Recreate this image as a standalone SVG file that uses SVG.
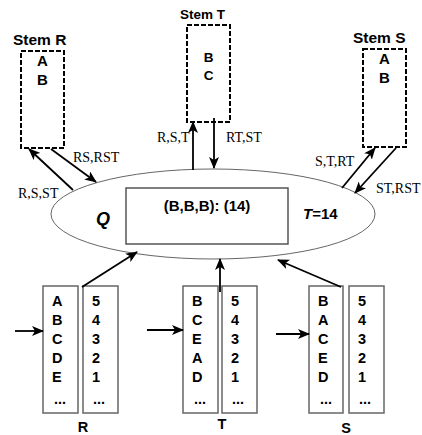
<svg xmlns="http://www.w3.org/2000/svg" width="422" height="435" viewBox="0 0 422 435">
<style>
.sans{font-family:"Liberation Sans",Arial,sans-serif;font-weight:bold;fill:#000}
.serif{font-family:"Liberation Serif","Times New Roman",serif;fill:#000;font-size:14px}
.stem{fill:#fff;stroke:#000;stroke-width:2;stroke-dasharray:5,2}
.col{fill:#fff;stroke:#666;stroke-width:1.5}
.arr{stroke:#000;stroke-width:1.8;fill:none;marker-end:url(#ah)}
</style>
<defs>
<marker id="ah" viewBox="0 0 12 10" refX="11" refY="5" markerWidth="12" markerHeight="10" markerUnits="userSpaceOnUse" orient="auto">
<path d="M0,0 L12,5 L0,10 L3,5 Z" fill="#000"/>
</marker>
</defs>
<rect width="422" height="435" fill="#fff"/>

<g id="Q">
<ellipse cx="213" cy="214" rx="162" ry="45" fill="#fff" stroke="#666" stroke-width="1"/>
<rect x="126" y="188" width="162" height="56" fill="#fff" stroke="#555" stroke-width="1.5"/>
<text class="sans" x="207" y="211" font-size="15" text-anchor="middle">(B,B,B): (14)</text>
<text class="sans" x="96" y="225" font-size="18" font-style="italic">Q</text>
<text class="sans" x="303" y="219" font-size="15"><tspan font-style="italic">T</tspan>=14</text>
</g>

<g id="stemR">
<text class="sans" x="13" y="45" font-size="15.5">Stem R</text>
<rect class="stem" x="21" y="51" width="43" height="97"/>
<text class="sans" x="42.5" y="66" font-size="15" text-anchor="middle">A</text>
<text class="sans" x="42.5" y="85" font-size="15" text-anchor="middle">B</text>
</g>

<g id="stemT">
<text class="sans" x="180" y="19" font-size="13.5">Stem T</text>
<rect class="stem" x="187" y="25" width="43" height="97"/>
<text class="sans" x="208.5" y="62" font-size="13.5" text-anchor="middle">B</text>
<text class="sans" x="208.5" y="80" font-size="13.5" text-anchor="middle">C</text>
</g>

<g id="stemS">
<text class="sans" x="353" y="43" font-size="15.5">Stem S</text>
<rect class="stem" x="363" y="49" width="43" height="98"/>
<text class="sans" x="384.5" y="64" font-size="15" text-anchor="middle">A</text>
<text class="sans" x="384.5" y="83" font-size="15" text-anchor="middle">B</text>
</g>

<g id="colR">
<rect class="col" x="43" y="286" width="35" height="127"/>
<rect class="col" x="83" y="286" width="35" height="127"/>
<text class="sans" font-size="14.5"><tspan x="52" y="306">A</tspan><tspan x="52" y="325">B</tspan><tspan x="52" y="344">C</tspan><tspan x="52" y="363">D</tspan><tspan x="52" y="382">E</tspan><tspan x="54" y="404">...</tspan></text>
<text class="sans" font-size="14.5"><tspan x="92" y="306">5</tspan><tspan x="92" y="325">4</tspan><tspan x="92" y="344">3</tspan><tspan x="92" y="363">2</tspan><tspan x="92" y="382">1</tspan><tspan x="93" y="404">...</tspan></text>
<text class="sans" x="83" y="432" font-size="14.5" text-anchor="middle">R</text>
</g>

<g id="colT">
<rect class="col" x="183" y="286" width="35" height="127"/>
<rect class="col" x="222" y="286" width="35" height="127"/>
<text class="sans" font-size="14.5"><tspan x="192" y="306">B</tspan><tspan x="192" y="325">C</tspan><tspan x="192" y="344">E</tspan><tspan x="192" y="363">A</tspan><tspan x="192" y="382">D</tspan><tspan x="194" y="404">...</tspan></text>
<text class="sans" font-size="14.5"><tspan x="231" y="306">5</tspan><tspan x="231" y="325">4</tspan><tspan x="231" y="344">3</tspan><tspan x="231" y="363">2</tspan><tspan x="231" y="382">1</tspan><tspan x="232" y="404">...</tspan></text>
<text class="sans" x="222" y="429" font-size="14.5" text-anchor="middle">T</text>
</g>

<g id="colS">
<rect class="col" x="309" y="286" width="34" height="127"/>
<rect class="col" x="349" y="286" width="35" height="127"/>
<text class="sans" font-size="14.5"><tspan x="318" y="306">B</tspan><tspan x="318" y="325">A</tspan><tspan x="318" y="344">C</tspan><tspan x="318" y="363">E</tspan><tspan x="318" y="382">D</tspan><tspan x="320" y="404">...</tspan></text>
<text class="sans" font-size="14.5"><tspan x="358" y="306">5</tspan><tspan x="358" y="325">4</tspan><tspan x="358" y="344">3</tspan><tspan x="358" y="363">2</tspan><tspan x="358" y="382">1</tspan><tspan x="359" y="404">...</tspan></text>
<text class="sans" x="346" y="433" font-size="14.5" text-anchor="middle">S</text>
</g>

<g id="connectors">
<line class="arr" x1="73" y1="190" x2="29" y2="149"/>
<line class="arr" x1="51" y1="149" x2="96" y2="182"/>
<line class="arr" x1="193" y1="170" x2="193" y2="122"/>
<line class="arr" x1="214" y1="118" x2="214" y2="168"/>
<line class="arr" x1="342" y1="188" x2="375" y2="148"/>
<line class="arr" x1="396" y1="148" x2="355" y2="193"/>
<line class="arr" x1="82" y1="287" x2="137" y2="252"/>
<line class="arr" x1="220" y1="292" x2="220" y2="259"/>
<line class="arr" x1="341" y1="287" x2="278" y2="260"/>
<line class="arr" x1="15" y1="331" x2="43" y2="331"/>
<line class="arr" x1="147" y1="330" x2="183" y2="330"/>
<line class="arr" x1="276" y1="334" x2="309" y2="334"/>
<text class="serif" x="18" y="198">R,S,ST</text>
<text class="serif" x="73" y="162">RS,RST</text>
<text class="serif" x="157" y="142">R,S,T</text>
<text class="serif" x="226" y="142">RT,ST</text>
<text class="serif" x="315" y="166">S,T,RT</text>
<text class="serif" x="376" y="193" font-size="13.5">ST,RST</text>
</g>
</svg>
